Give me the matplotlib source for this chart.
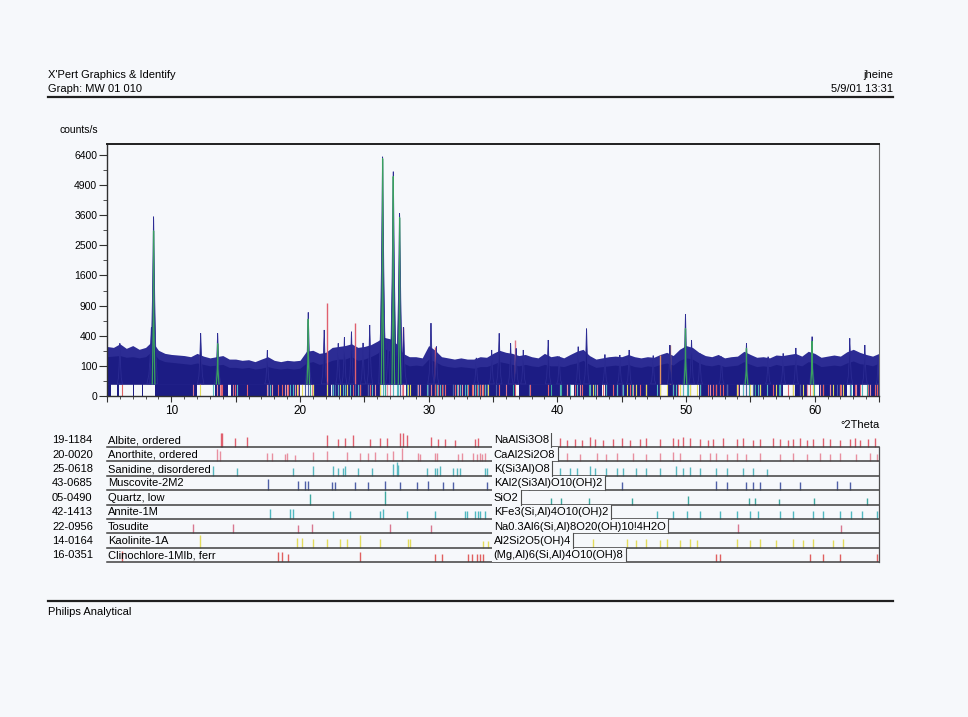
import numpy as np
import matplotlib
matplotlib.use('Agg')
import matplotlib.pyplot as plt
from matplotlib.patches import Rectangle
from matplotlib.lines import Line2D
from matplotlib.ticker import FixedLocator, FuncFormatter

# ---------------- data ----------------
env_theta = np.arange(5.0, 65.01, 0.5)
env_body = [170, 175, 180, 165, 170, 160, 170, 220, 150, 130,
            125, 120, 115, 110, 120, 110, 100, 105, 110, 90,
            90, 85, 90, 80, 85, 95, 85, 80, 85, 80,
            85, 120, 130, 110, 120, 140, 150, 150, 170, 140,
            150, 170, 200, 250, 220, 180, 120, 100, 105, 100,
            150, 130, 105, 95, 90, 95, 90, 85, 95, 95,
            110, 130, 120, 110, 100, 110, 100, 95, 110, 100,
            100, 95, 110, 120, 140, 110, 90, 95, 100, 105,
            100, 110, 95, 90, 100, 95, 110, 120, 105, 140,
            160, 150, 120, 105, 100, 110, 95, 100, 105, 130,
            110, 95, 100, 95, 110, 100, 105, 110, 100, 130,
            120, 95, 100, 105, 100, 120, 135, 115, 110, 100, 120]
env_top = [270, 260, 300, 250, 280, 240, 260, 330, 230, 200,
           190, 185, 180, 170, 200, 175, 160, 170, 180, 150,
           150, 140, 145, 130, 150, 170, 140, 130, 140, 135,
           140, 220, 230, 200, 210, 260, 270, 280, 300, 260,
           270, 290, 330, 380, 360, 300, 200, 170, 170, 160,
           280, 230, 170, 160, 150, 160, 150, 150, 170, 165,
           200, 230, 210, 200, 180, 190, 170, 160, 200, 170,
           180, 160, 190, 220, 240, 180, 150, 160, 170, 175,
           170, 190, 170, 160, 170, 165, 190, 210, 180, 240,
           280, 260, 210, 180, 170, 190, 160, 170, 175, 220,
           190, 165, 170, 160, 185, 180, 190, 200, 175, 220,
           200, 165, 175, 185, 175, 215, 240, 210, 190, 175, 200]

# (2theta, counts/s, half width)
peaks = [(6.0, 306, 0.2), (8.45, 520, 0.35), (8.62, 3540, 0.3), (12.28, 433, 0.25),
         (13.6, 433, 0.25), (17.46, 230, 0.2), (20.64, 770, 0.25), (21.88, 480, 0.22),
         (22.97, 306, 0.2), (23.45, 380, 0.2), (24.0, 455, 0.22), (24.9, 310, 0.2),
         (25.42, 555, 0.22), (26.42, 6300, 0.3), (26.85, 340, 0.2), (27.25, 5540, 0.3),
         (27.74, 3670, 0.3), (28.05, 520, 0.25), (30.18, 585, 0.25), (30.6, 270, 0.2),
         (33.7, 160, 0.2), (34.9, 233, 0.2), (35.48, 433, 0.22), (36.37, 306, 0.2),
         (36.8, 250, 0.2), (37.35, 233, 0.2), (39.29, 345, 0.22), (40.15, 170, 0.2),
         (41.62, 268, 0.2), (42.27, 500, 0.22), (43.7, 190, 0.2), (44.86, 185, 0.2),
         (45.58, 233, 0.2), (47.45, 180, 0.2), (48.75, 286, 0.2), (49.96, 740, 0.22),
         (50.43, 345, 0.22), (51.08, 200, 0.2), (52.76, 170, 0.2), (54.7, 306, 0.22),
         (56.38, 170, 0.2), (57.55, 200, 0.2), (58.54, 254, 0.2), (59.8, 388, 0.22),
         (62.73, 367, 0.22), (63.9, 286, 0.2), (64.93, 170, 0.15)]

profile_peaks = [(8.62, 3000), (13.6, 300), (20.64, 650), (26.42, 6200), (27.25, 5300),
                 (27.74, 3500), (49.96, 500), (54.7, 250), (59.8, 330)]

overlay_sticks = [(12.23, 185, '#e07888'), (22.07, 947, '#e0606e'), (24.27, 582, '#e0606e'),
                  (28.02, 528, '#e0606e'), (30.49, 268, '#e0606e'), (36.7, 345, '#e07888'),
                  (47.97, 185, '#e09060'), (48.75, 286, '#e09060')]

dropout_ranges = [(5.0, 5.3), (5.8, 5.9), (7.0, 7.1), (7.7, 7.8), (8.7, 12.0), (13.4, 14.4),
                  (14.6, 20.0), (20.9, 22.4), (22.6, 26.3), (28.2, 34.5), (34.7, 36.7),
                  (37.0, 41.0), (41.3, 43.5), (43.7, 48.0), (48.6, 49.4), (51.0, 54.2),
                  (55.2, 57.5), (58.5, 59.4), (60.3, 62.5), (63.0, 63.6), (64.2, 65.0)]

y_ticks = [0, 100, 400, 900, 1600, 2500, 3600, 4900, 6400]
y_minor = [25, 225, 625, 1225, 2025, 3025, 4225, 5625]
x_labels = [10, 20, 30, 40, 50, 60]

codes = ['19-1184', '20-0020', '25-0618', '43-0685', '05-0490', '42-1413', '22-0956', '14-0164', '16-0351']
names = ['Albite, ordered', 'Anorthite, ordered', 'Sanidine, disordered', 'Muscovite-2M2',
         'Quartz, low', 'Annite-1M', 'Tosudite', 'Kaolinite-1A', 'Clinochlore-1MIb, ferr']
formulas = ['NaAlSi3O8', 'CaAl2Si2O8', 'K(Si3Al)O8', 'KAl2(Si3Al)O10(OH)2', 'SiO2',
            'KFe3(Si,Al)4O10(OH)2', 'Na0.3Al6(Si,Al)8O20(OH)10!4H2O', 'Al2Si2O5(OH)4',
            '(Mg,Al)6(Si,Al)4O10(OH)8']
phase_colors = ['#e0606e', '#e890a0', '#58b8c0', '#5060a8', '#40a8a0', '#50b8c0',
                '#d87890', '#e4dc5c', '#e06060']

albite_sticks = [(13.86,1.0),(13.95,1.0),(14.95,0.7),(15.85,0.75),(22.07,0.9),(22.97,0.6),(23.49,0.7),
    (24.14,0.85),(25.43,0.6),(26.21,0.7),(26.73,0.7),(27.77,1.0),(28.02,1.0),(28.28,0.85),(30.22,0.75),
    (30.74,0.6),(31.26,0.6),(32.04,0.55),(33.59,0.6),(33.85,0.65),(35.5,0.6),(36.7,0.6),(37.9,0.5),
    (39.3,0.5),(40.2,0.7),(40.72,0.55),(41.36,0.6),(41.88,0.5),(42.53,0.75),(42.92,0.6),(43.56,0.5),
    (44.34,0.6),(44.99,0.7),(45.64,0.55),(46.41,0.6),(46.93,0.7),(47.97,0.6),(49.0,0.7),(49.39,0.6),
    (49.78,0.75),(50.3,0.7),(51.08,0.6),(51.73,0.55),(52.11,0.6),(52.89,0.7),(53.93,0.6),(54.44,0.65),
    (55.22,0.55),(55.74,0.6),(56.77,0.7),(57.29,0.6),(57.94,0.55),(58.33,0.6),(58.85,0.7),(59.37,0.55),
    (59.88,0.6),(60.66,0.7),(61.18,0.6),(61.96,0.55),(62.73,0.6),(63.12,0.7),(63.51,0.55),(64.15,0.6),
    (64.67,0.7)]
anorthite_sticks = [(13.52,0.9),(13.78,0.8),(17.41,0.6),(17.8,0.6),(18.83,0.55),(18.96,0.6),(19.6,0.5),
    (21.03,0.7),(22.07,0.8),(23.62,0.7),(24.66,0.6),(25.3,0.6),(25.82,0.7),(26.73,0.6),(27.25,0.8),
    (27.9,1.0),(29.19,0.6),(29.32,0.55),(30.49,0.6),(30.62,0.6),(32.3,0.55),(32.56,0.6),(33.46,0.6),
    (33.72,0.55),(33.98,0.6),(34.11,0.55),(34.37,0.6),(40.72,0.6),(41.75,0.55),(43.05,0.6),(43.82,0.55),
    (44.6,0.6),(45.89,0.6),(46.93,0.55),(47.97,0.6),(49.0,0.7),(49.52,0.6),(51.08,0.55),(51.85,0.6),
    (52.37,0.6),(53.15,0.55),(53.93,0.6),(54.7,0.55),(55.74,0.6),(57.29,0.55),(58.33,0.6),(59.37,0.55),
    (60.4,0.6),(61.18,0.55),(61.96,0.6),(63.25,0.55),(64.29,0.6),(64.81,0.55)]
sanidine_sticks = [(13.26,0.7),(15.08,0.6),(19.48,0.6),(21.03,0.7),(22.59,0.7),(22.97,0.6),(23.36,0.6),
    (23.49,0.7),(24.53,0.6),(25.56,0.6),(27.25,0.9),(27.51,1.0),(27.64,0.8),(29.84,0.6),(30.49,0.6),
    (30.62,0.6),(30.87,0.7),(31.91,0.55),(32.17,0.55),(32.43,0.6),(34.37,0.6),(34.5,0.55),(40.2,0.6),
    (40.98,0.55),(41.49,0.6),(42.53,0.7),(42.92,0.6),(43.82,0.55),(44.6,0.6),(45.12,0.55),(46.15,0.6),
    (46.93,0.55),(47.97,0.6),(49.26,0.7),(49.78,0.6),(50.3,0.65),(51.08,0.55),(52.37,0.6),(53.15,0.55),
    (54.44,0.6),(55.22,0.55),(56.26,0.5)]
muscovite_sticks = [(17.54,0.8),(19.87,0.7),(20.39,0.7),(20.64,0.7),(22.46,0.6),(22.72,0.6),(24.27,0.6),
    (25.3,0.6),(26.6,0.7),(27.77,0.6),(29.06,0.6),(29.97,0.7),(31.13,0.6),(31.91,0.6),(34.5,0.6),
    (35.2,0.6),(37.8,0.5),(45.0,0.6),(52.37,0.7),(53.15,0.6),(54.7,0.6),(55.22,0.6),(55.74,0.6),
    (57.29,0.6),(58.85,0.6),(61.7,0.7),(62.73,0.6)]
quartz_sticks = [(20.77,0.8),(26.6,1.0),(36.54,0.5),(39.47,0.5),(40.29,0.5),(42.45,0.5),(45.79,0.5),
    (50.14,0.6),(54.87,0.5),(55.33,0.5),(57.24,0.4),(59.96,0.5),(64.03,0.5)]
annite_sticks = [(17.67,0.7),(19.22,0.7),(19.48,0.7),(22.59,0.6),(23.88,0.6),(26.21,0.6),(26.47,0.7),
    (28.28,0.6),(30.49,0.6),(32.82,0.6),(32.95,0.55),(33.59,0.6),(33.85,0.6),(33.98,0.6),(34.37,0.6),
    (47.71,0.6),(49.0,0.6),(50.04,0.6),(51.08,0.6),(52.63,0.6),(53.93,0.55),(54.96,0.6),(55.61,0.55),
    (57.29,0.6),(58.33,0.55),(59.88,0.6),(60.66,0.55),(61.96,0.6),(62.86,0.55),(63.64,0.6),(64.81,0.6)]
tosudite_sticks = [(11.66,0.7),(14.77,0.7),(19.87,0.6),(20.9,0.7),(26.99,0.7),(30.22,0.6),(36.0,0.5),
    (54.05,0.7),(62.08,0.6)]
kaolinite_sticks = [(12.23,0.9),(19.74,0.7),(20.13,0.7),(21.03,0.6),(22.07,0.6),(23.1,0.6),(23.62,0.6),
    (24.66,0.9),(26.21,0.6),(28.41,0.6),(28.54,0.6),(34.2,0.5),(34.6,0.5),(42.79,0.6),(45.38,0.6),
    (46.15,0.55),(46.93,0.6),(47.97,0.55),(48.49,0.6),(49.52,0.55),(50.3,0.6),(50.82,0.55),(53.93,0.6),
    (54.96,0.55),(55.74,0.6),(57.03,0.55),(58.33,0.6),(59.11,0.55),(59.88,0.6),(61.44,0.55),(62.21,0.6)]
clinochlore_sticks = [(6.2,0.8),(18.31,0.7),(18.57,0.7),(19.09,0.6),(24.66,0.7),(30.49,0.6),(31.01,0.6),
    (33.08,0.6),(33.34,0.6),(33.72,0.6),(33.98,0.6),(34.24,0.6),(52.37,0.6),(52.63,0.6),(59.63,0.6),
    (60.66,0.6),(61.96,0.6),(64.81,0.6)]
phase_sticks = [albite_sticks, anorthite_sticks, sanidine_sticks, muscovite_sticks, quartz_sticks,
                annite_sticks, tosudite_sticks, kaolinite_sticks, clinochlore_sticks]

# ---------------- style ----------------
BG = '#f6f8fb'
NAVY = '#1c1c84'
FUZZ = '#2c2c94'
GREEN = '#3aa060'
BASE = 16
HDR_FONT = ['Liberation Sans Narrow', 'Liberation Sans', 'DejaVu Sans']
plt.rcParams['font.family'] = ['Liberation Sans', 'DejaVu Sans']

W, H = 968, 717
def fx(px): return px / W
def fy(py): return 1 - py / H

fig = plt.figure(figsize=(W / 100, H / 100), dpi=100, facecolor=BG)

# ---------------- main plot ----------------
ax = fig.add_axes([fx(107), fy(396), fx(879) - fx(107), fy(144) - fy(396)])
ax.set_facecolor(BG)
ax.set_yscale('function', functions=(lambda v: np.sqrt(np.clip(v, 0, None)), lambda v: np.square(v)))
ax.set_xlim(5, 65)
ax.set_ylim(0, 6990)

ax.axhline(BASE, color='#9090a8', lw=0.7, zorder=1)
for a, b in dropout_ranges:
    ax.fill_between([a, b], 0, BASE, color=NAVY, lw=0, zorder=2)
for sticks, c in zip(phase_sticks, phase_colors):
    pos = [p for p, h in sticks]
    ax.vlines(pos, 0, BASE, colors=c, lw=0.8, zorder=3)

ax.fill_between(env_theta, BASE, env_top, color=FUZZ, lw=0, zorder=4)
ax.fill_between(env_theta, BASE, env_body, color=NAVY, lw=0, zorder=5)

for t, c_, col in overlay_sticks:
    ax.vlines(t, BASE, c_, colors=col, lw=1.0, zorder=5.5)

shape_dx = [-1, -0.55, -0.3, -0.03, 0, 0.03, 0.3, 0.55, 1]
shape_fy = [0, 0.07, 0.28, 0.95, 1, 0.95, 0.28, 0.07, 0]
for t, h, w in peaks:
    xs = [t + d * w for d in shape_dx]
    ys = [BASE + f * (h - BASE) for f in shape_fy]
    ax.fill(xs, ys, color=NAVY, lw=0.6, ec=FUZZ, zorder=6)

prof_dx = [-0.5, -0.08, 0, 0.08, 0.5]
prof_fy = [0, 0.25, 1, 0.25, 0]
for t, h in profile_peaks:
    xs = [t + d * 0.2 for d in prof_dx]
    ys = [BASE + f * (h - BASE) for f in prof_fy]
    ax.plot(xs, ys, color=GREEN, lw=0.9, zorder=7)

ax.yaxis.set_major_locator(FixedLocator(y_ticks))
ax.yaxis.set_minor_locator(FixedLocator(y_minor))
ax.yaxis.set_major_formatter(FuncFormatter(lambda v, p: f'{int(round(v))}'))
ax.xaxis.set_major_locator(FixedLocator(list(range(5, 66, 5))))
ax.xaxis.set_minor_locator(FixedLocator([v for v in range(5, 66) if v % 5]))
ax.xaxis.set_major_formatter(FuncFormatter(lambda v, p: f'{int(v)}' if int(round(v)) in x_labels else ''))
ax.tick_params(axis='y', which='major', length=6, width=0.8, labelsize=7.5, pad=1, color='#303030')
ax.tick_params(axis='y', which='minor', length=3, width=0.7, color='#505050')
ax.tick_params(axis='x', which='major', length=4.5, width=0.8, labelsize=8.5, pad=2, color='#303030')
ax.tick_params(axis='x', which='minor', length=2.5, width=0.7, color='#505050')
for s, lw, c in [('top', 1.4, '#202020'), ('left', 1.0, '#303030'), ('bottom', 1.0, '#303030'), ('right', 0.8, '#707070')]:
    ax.spines[s].set_linewidth(lw)
    ax.spines[s].set_color(c)
    ax.spines[s].set_zorder(10)

# ---------------- phase table ----------------
tax = fig.add_axes([fx(107), fy(562), fx(879) - fx(107), fy(432.7) - fy(562)])
tax.set_xlim(5, 65)
tax.set_ylim(0, 9)
tax.axis('off')
renderer = fig.canvas.get_renderer()
for i in range(9):
    yb = 8 - i
    tax.plot([5, 65], [yb, yb], color='#404040', lw=1.1, zorder=2, clip_on=False)
    pos = [p for p, h in phase_sticks[i]]
    hts = [yb + h * 0.95 for p, h in phase_sticks[i]]
    tax.vlines(pos, yb, hts, colors=phase_colors[i], lw=1.0, zorder=1)
    tax.text(0.73, yb + 0.47, codes[i], fontsize=8, va='center', ha='left', clip_on=False)
    tax.text(5.05, yb + 0.47, names[i], fontsize=8, va='center', ha='left', clip_on=False, zorder=3)
    ft = tax.text(35.05, yb + 0.47, formulas[i], fontsize=8, va='center', ha='left', zorder=5)
    bb = ft.get_window_extent(renderer=renderer)
    x1 = tax.transData.inverted().transform((bb.x1, 0))[0] + 0.2
    tax.add_patch(Rectangle((34.9, yb), x1 - 34.9, 1, fc=BG, ec='none', zorder=4))
    tax.plot([x1, x1], [yb, yb + 1], color='#505050', lw=0.8, zorder=4.5)
tax.plot([65, 65], [0, 8], color='#505050', lw=0.9, clip_on=False)

# ---------------- page text ----------------
fig.text(fx(48), fy(75), "X'Pert Graphics & Identify", fontsize=8, family=HDR_FONT, va='center', ha='left')
fig.text(fx(48), fy(89), 'Graph: MW 01 010', fontsize=8, family=HDR_FONT, va='center', ha='left')
fig.text(fx(893), fy(75), 'jheine', fontsize=8, family=HDR_FONT, va='center', ha='right')
fig.text(fx(893), fy(89), '5/9/01 13:31', fontsize=8, family=HDR_FONT, va='center', ha='right')
fig.add_artist(Line2D([fx(48), fx(893)], [fy(97), fy(97)], lw=1.6, color='#202020'))
fig.text(fx(60), fy(130), 'counts/s', fontsize=7.5, va='center', ha='left')
fig.text(fx(880), fy(425), '°2Theta', fontsize=8, va='center', ha='right')
fig.add_artist(Line2D([fx(48), fx(893)], [fy(601), fy(601)], lw=1.6, color='#202020'))
fig.text(fx(48), fy(612), 'Philips Analytical', fontsize=8, family=HDR_FONT, va='center', ha='left')

fig.savefig('out.png', dpi=100, facecolor=BG)
